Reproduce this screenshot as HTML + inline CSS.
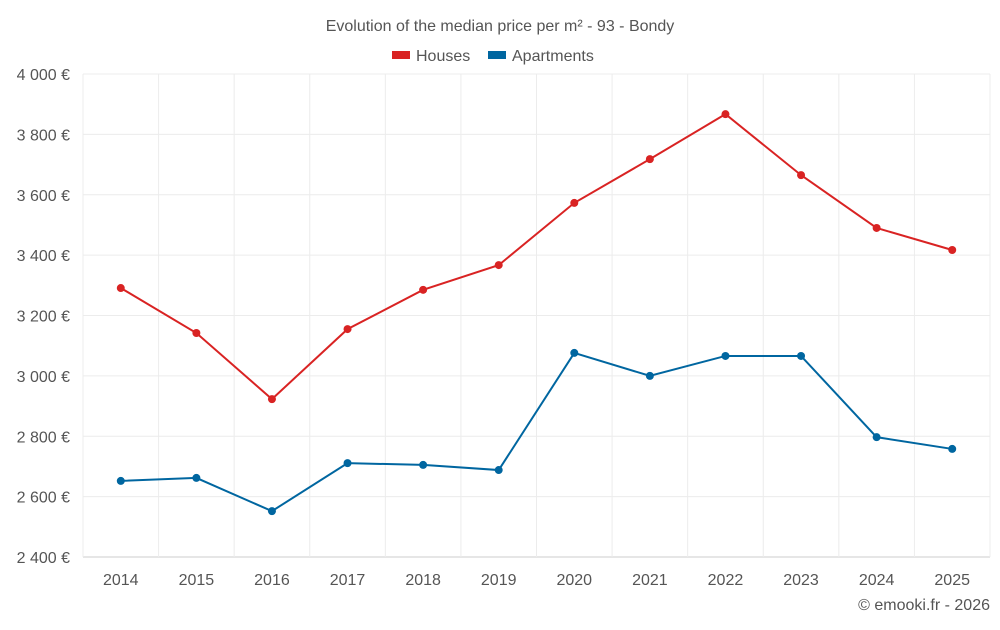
<!DOCTYPE html>
<html><head><meta charset="utf-8"><style>
body{margin:0;background:#fff;font-family:"Liberation Sans",sans-serif;}
svg text{font-family:"Liberation Sans",sans-serif;}
</style></head><body>
<svg id="c" width="1000" height="625">
<text x="500" y="31" text-anchor="middle" font-size="16" fill="#555">Evolution of the median price per m² - 93 - Bondy</text>
<g>
<rect x="392" y="51" width="18" height="8" fill="#d92323"/>
<text x="416" y="61" font-size="16" fill="#555">Houses</text>
<rect x="488" y="51" width="18" height="8" fill="#0066a0"/>
<text x="512" y="61" font-size="16" fill="#555">Apartments</text>
</g>
<g id="grid"></g><g id="axes"></g><g id="series"></g>
<text x="990" y="610" text-anchor="end" font-size="16" fill="#555">© emooki.fr - 2026</text>
</svg>
<script>
const years=[2014,2015,2016,2017,2018,2019,2020,2021,2022,2023,2024,2025];
const houses=[3291,3142,2923,3155,3285,3367,3573,3718,3867,3665,3490,3417];
const apartments=[2652,2662,2552,2711,2705,2688,3076,3000,3066,3066,2797,2758];
const yTicks=[2400,2600,2800,3000,3200,3400,3600,3800,4000];
const NS="http://www.w3.org/2000/svg";
const L=83,R=990,T=74,B=557;
const step=(R-L)/years.length;
const x=i=>L+step*(i+0.5);
const y=v=>B-(v-2400)/1600*(B-T);
function mk(p,tag,a){const e=document.createElementNS(NS,tag);for(const k in a)e.setAttribute(k,a[k]);p.appendChild(e);return e;}
const g=document.getElementById('grid'),ax=document.getElementById('axes'),s=document.getElementById('series');
yTicks.forEach(v=>{
 const l=mk(g,'line',{x1:L,x2:R,y1:y(v),y2:y(v),stroke:v===2400?'#ccc':'#ececec'});
 
 
 const t=mk(ax,'text',{x:70,y:y(v)+6,'text-anchor':'end','font-size':16,fill:'#555'});
 t.textContent=v.toString().replace(/(\d)(\d{3})$/,'$1 $2')+' €';
 
 
});
for(let i=0;i<=years.length;i++){
 const l=mk(g,'line',{x1:L+step*i,x2:L+step*i,y1:T,y2:B,stroke:'#ececec'});
 
 
}
years.forEach((yr,i)=>{
 const t=mk(ax,'text',{x:x(i),y:585,'text-anchor':'middle','font-size':16,fill:'#555'});
 t.textContent=yr;
 
 
});
function series(vals,col,name){
 const p=mk(s,'polyline',{points:vals.map((v,i)=>x(i)+','+y(v)).join(' '),fill:'none',stroke:col,'stroke-width':2});
 
 
 vals.forEach((v,i)=>{
  const c=mk(s,'circle',{cx:x(i),cy:y(v),r:4,fill:col});
  
  
 });
}
series(houses,'#d92323','houses');
series(apartments,'#0066a0','apartments');
</script>
</body></html>
